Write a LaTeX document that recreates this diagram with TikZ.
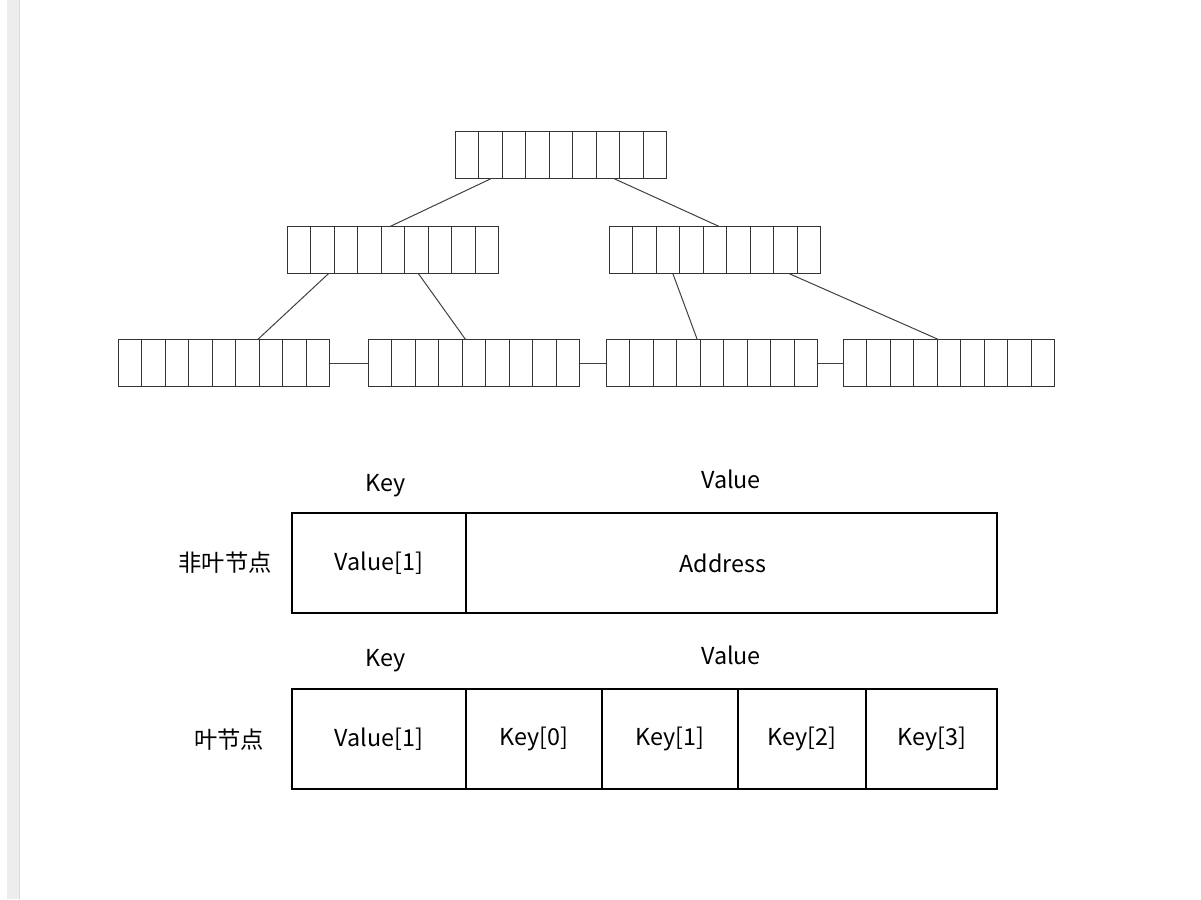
\documentclass[tikz,border=0pt]{standalone}
\usepackage{fontspec}
\setmainfont{Noto Sans CJK SC}
\usetikzlibrary{calc,positioning}
\begin{document}
\begin{tikzpicture}[x=0.75pt,y=-0.75pt,
  page/.style={draw=black!80,line width=0.75pt,minimum width=158.25pt,minimum height=35.25pt,inner sep=0,outer sep=0},
  link/.style={draw=black!75,line width=0.75pt},
  cell/.style={draw,line width=1.1pt,minimum height=75pt,inner sep=0,outer sep=0,font=\fontsize{17.5}{20}\selectfont},
  lbl/.style={font=\fontsize{17.5}{20}\selectfont}]
\useasboundingbox (0,0) rectangle (1201,899);
\fill[black!7] (7,0) rectangle (19,899);
\draw[black!15] (19,0) -- (19,899);
% B+ tree pages
\foreach \a/\x/\y in {r/561/155, m1/393/250, m2/715/250, l1/224/363, l2/474/363, l3/712/363, l4/949/363}{
\path (\x,\y) node[page] (\a) {};
\foreach \i in {1,...,8}{
\draw[black!80,line width=0.75pt] ($(\a.north west)!\i/9!(\a.north east)$) -- ($(\a.south west)!\i/9!(\a.south east)$);}
}
\foreach \p/\f/\c/\g in {r/.17/m1/.486, r/.75/m2/.52, m1/.195/l1/.66, m1/.62/l2/.46, m2/.30/l3/.43, m2/.85/l4/.45}{
\draw[link] ($(\p.south west)!\f!(\p.south east)$) -- ($(\c.north west)!\g!(\c.north east)$);}
\draw[link] (l1) -- (l2) (l2) -- (l3) (l3) -- (l4);
% record layout
\node[cell,minimum width=130.5pt,anchor=north west] (k1) at (292,513) {Value[1]};
\node[cell,minimum width=398.25pt,right=0pt of k1] (v1) {Address\kern13pt};
\node[cell,minimum width=130.5pt,anchor=north west] (k2) at (292,689) {Value[1]};
\node[cell,minimum width=102pt,right=0pt of k2] (c0) {Key[0]};
\node[cell,minimum width=102pt,right=0pt of c0] (c1) {Key[1]};
\node[cell,minimum width=96pt,right=0pt of c1] (c2) {Key[2]};
\node[cell,minimum width=98.25pt,right=0pt of c2] (c3) {Key[3]};
\node[lbl] (kh1) at (386,486) {Key};
\node[lbl] (vh1) at (731,479) {Value};
\node[lbl] (kh2) at (386,661) {Key};
\node[lbl] (vh2) at (731,655) {Value};
\node[lbl] (n1) at (225,563) {非叶节点};
\node[lbl] (n2) at (229,740) {叶节点};
\end{tikzpicture}
\end{document}
